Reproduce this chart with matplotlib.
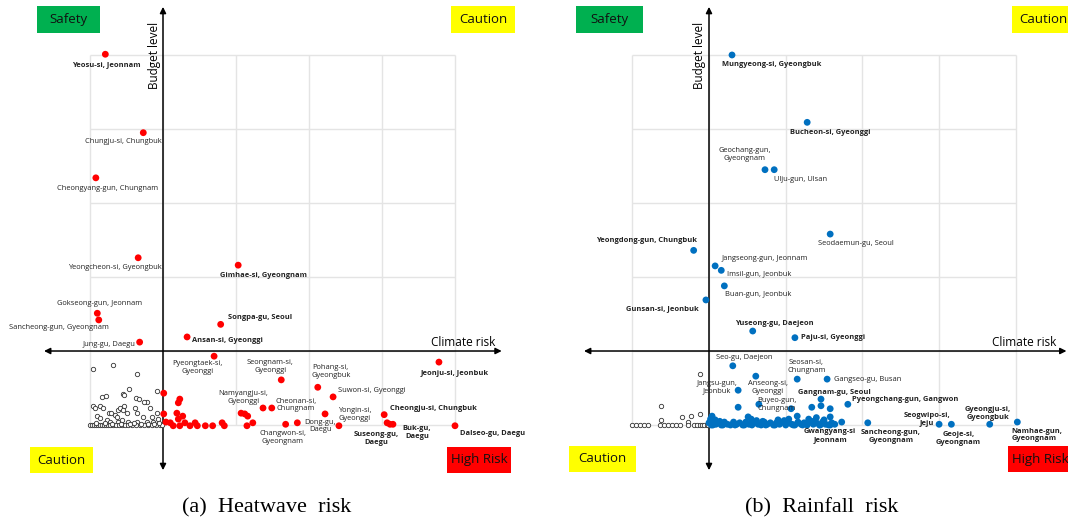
import matplotlib
matplotlib.use("Agg")
import matplotlib.pyplot as plt
from matplotlib.patches import Rectangle

plt.rcParams['font.family'] = ['Open Sans', 'DejaVu Sans']

# ---------------- Heatwave risk (left) ----------------
heat_names = ["Yeosu-si, Jeonnam", "Chungju-si, Chungbuk", "Cheongyang-gun, Chungnam",
              "Yeongcheon-si, Gyeongbuk", "Gimhae-si, Gyeongnam", "Gokseong-gun, Jeonnam",
              "Sancheong-gun, Gyeongnam", "Songpa-gu, Seoul", "Ansan-si, Gyeonggi",
              "Jung-gu, Daegu", "Pyeongtaek-si,\nGyeonggi", "Seongnam-si,\nGyeonggi",
              "Pohang-si,\nGyeongbuk", "Suwon-si, Gyeonggi", "Namyangju-si,\nGyeonggi",
              "Cheonan-si,\nChungnam", "Changwon-si,\nGyeongnam", "Dong-gu,\nDaegu",
              "Yongin-si,\nGyeonggi", "Cheongju-si, Chungbuk", "Suseong-gu,\nDaegu",
              "Buk-gu,\nDaegu", "Dalseo-gu, Daegu", "Jeonju-si, Jeonbuk"]
heat_risk = [-0.79, -0.27, -0.92, -0.34, 1.03, -0.90, -0.88, 0.79, 0.33, -0.32, 0.70, 1.62,
             2.12, 2.33, 1.07, 1.49, 1.68, 2.22, 2.41, 3.03, 3.07, 3.15, 4.00, 3.78]
heat_budget = [4.01, 2.95, 2.34, 1.26, 1.16, 0.51, 0.42, 0.36, 0.19, 0.12, -0.07, -0.39,
               -0.49, -0.62, -0.84, -0.77, -0.99, -0.85, -1.01, -0.86, -0.97, -0.99, -1.01, -0.15]
heat_bold = [True, False, False, False, True, False, False, True, True, False, False, False,
             False, False, False, False, False, False, False, True, True, True, True, True]

heat_other_risk = [0.01, 0.23, 0.21, 0.19, 0.27, 0.01, 0.21, 0.04, 0.10, 0.14, 0.23, 0.30,
                   0.37, 0.44, 0.47, 0.58, 0.68, 0.81, 0.84, 1.12, 1.16, 1.23, 1.15, 1.37,
                   1.84, 3.11]
heat_other_budget = [-0.57, -0.65, -0.70, -0.84, -0.88, -0.85, -0.92, -0.96, -0.97, -1.01,
                     -1.01, -0.97, -1.01, -0.97, -1.01, -1.01, -1.01, -0.97, -1.01, -0.85,
                     -0.88, -0.97, -1.01, -0.77, -0.97, -0.99]

heat_neg_risk = [-0.96, -0.68, -0.36, -0.84, -0.78, -0.55, -0.53, -0.47, -0.37, -0.33, -0.08,
                 -0.22, -0.26, -0.96, -0.93, -0.86, -0.82, -0.74, -0.71, -0.62, -0.59, -0.53,
                 -0.55, -0.66, -0.63, -0.49, -0.38, -0.36, -0.27, -0.18, -0.15, -0.08, -0.07,
                 -0.90, -0.86, -0.77, -0.73, -0.62, -0.56, -0.48, -0.36, -0.22, -0.14,
                 -1.00, -0.97, -0.95, -0.92, -0.89, -0.86, -0.84, -0.81, -0.78, -0.75, -0.73,
                 -0.68, -0.64, -0.60, -0.56, -0.52, -0.48, -0.42, -0.37, -0.32, -0.26, -0.21,
                 -0.15, -0.10, -0.04, -0.01,
                 -0.70, -0.45, -0.30, -0.12, -0.92, -0.80, -0.58, -0.40, -0.20, -0.05]
heat_neg_budget = [-0.24, -0.19, -0.31, -0.62, -0.61, -0.58, -0.59, -0.51, -0.64, -0.65, -0.54,
                   -0.69, -0.69, -0.74, -0.77, -0.74, -0.77, -0.84, -0.84, -0.80, -0.77, -0.74,
                   -0.80, -0.86, -0.89, -0.84, -0.77, -0.84, -0.89, -0.77, -0.89, -0.84, -0.92,
                   -0.88, -0.91, -0.93, -0.96, -0.96, -0.93, -0.96, -0.96, -0.96, -0.96,
                   -1.00, -1.00, -1.00, -1.00, -1.00, -1.00, -1.00, -1.00, -1.00, -1.00, -1.00,
                   -1.00, -1.00, -1.00, -1.00, -1.00, -1.00, -1.00, -1.00, -1.00, -1.00, -1.00,
                   -1.00, -1.00, -1.00, -1.00,
                   -0.98, -0.98, -0.98, -0.98, -0.97, -0.97, -0.98, -0.97, -0.98, -0.97]

# label placement (offset pixels, alignment)
heat_offsets = [(1, -10, 'center'), (-20, -9, 'center'), (12, -11, 'center'), (-23, -10, 'center'),
                (25, -10, 'center'), (2, 10, 'center'), (-40, -8, 'center'), (7, 7, 'left'),
                (5, -4, 'left'), (-4, -2, 'right'), (-17, -11, 'center'), (-11, 13, 'center'),
                (13, 16, 'center'), (5, 6, 'left'), (2, 16, 'center'), (24, 3, 'center'),
                (-3, -13, 'center'), (-5, -12, 'center'), (16, 11, 'center'), (6, 6, 'left'),
                (-11, -16, 'center'), (24, -8, 'center'), (38, -8, 'center'), (16, -11, 'center')]

# ---------------- Rainfall risk (right) ----------------
rain_names = ["Mungyeong-si, Gyeongbuk", "Bucheon-si, Gyeonggi", "Geochang-gun,\nGyeongnam",
              "Ulju-gun, Ulsan", "Seodaemun-gu, Seoul", "Yeongdong-gun, Chungbuk",
              "Jangseong-gun, Jeonnam", "Imsil-gun, Jeonbuk", "Buan-gun, Jeonbuk",
              "Gunsan-si, Jeonbuk", "Yuseong-gu, Daejeon", "Paju-si, Gyeonggi",
              "Seo-gu, Daejeon", "Jangsu-gun,\nJeonbuk", "Anseong-si,\nGyeonggi",
              "Seosan-si,\nChungnam", "Gangseo-gu, Busan", "Buyeo-gun,\nChungnam",
              "Gangnam-gu, Seoul", "Pyeongchang-gun, Gangwon", "Gwangyang-si\nJeonnam",
              "Sancheong-gun,\nGyeongnam", "Seogwipo-si,\nJeju", "Geoje-si,\nGyeongnam",
              "Gyeongju-si,\nGyeongbuk", "Namhae-gun,\nGyeongnam"]
rain_risk = [0.30, 1.28, 0.73, 0.85, 1.58, -0.20, 0.08, 0.16, 0.20, -0.04, 0.57, 1.12,
             0.31, 0.38, 0.61, 1.15, 1.54, 0.65, 1.46, 1.81, 1.58, 2.07, 3.00, 3.16, 3.66, 4.02]
rain_budget = [4.00, 3.09, 2.45, 2.45, 1.58, 1.36, 1.15, 1.09, 0.88, 0.69, 0.27, 0.18,
               -0.20, -0.53, -0.34, -0.38, -0.38, -0.72, -0.65, -0.72, -0.89, -0.97, -0.99,
               -0.99, -0.99, -0.96]
rain_bold = [True, True, False, False, False, True, False, False, False, True, True, True,
             False, False, False, False, False, False, True, True, True, True, True, True,
             True, True]
rain_offsets = [(40, -10, 'center'), (23, -10, 'center'), (-20, 15, 'center'), (26, -10, 'center'),
                (26, -9, 'center'), (-47, 10, 'center'), (50, 7, 'center'), (38, -4, 'center'),
                (34, -9, 'center'), (-44, -9, 'center'), (22, 8, 'center'), (6, 0, 'left'),
                (11, 8, 'center'), (-21, 3, 'center'), (12, -11, 'center'), (9, 13, 'center'),
                (7, 0, 'left'), (18, 0, 'center'), (13, 7, 'center'), (4, 5, 'left'),
                (0, -19, 'center'), (23, -14, 'center'), (-12, 5, 'center'), (7, -14, 'center'),
                (-2, 11, 'center'), (-6, -13, 'left')]

rain_other_risk = [0.38, 1.34, 1.46, 1.58, 1.15, 1.04, 1.73, 1.07, 0.04, 0.51,
                   0.00, 0.03, 0.06, 0.09, 0.12, 0.16, 0.20, 0.24, 0.28, 0.32, 0.36, 0.40,
                   0.44, 0.48, 0.52, 0.56, 0.60, 0.64, 0.68, 0.72, 0.76, 0.80, 0.84, 0.88,
                   0.92, 0.96, 1.00, 1.04, 1.08, 1.12, 1.16, 1.20, 1.24, 1.28, 1.32, 1.36,
                   1.40, 1.44, 1.48, 1.52, 1.56, 1.60, 1.64,
                   0.08, 0.14, 0.55, 0.62, 0.90, 1.30, 1.40, 1.50, 0.02, 0.70, 0.98, 1.36,
                   0.05, 0.18, 0.34, 0.46, 0.74, 0.86, 1.10, 1.22, 1.45, 1.58]
rain_other_budget = [-0.76, -0.76, -0.74, -0.78, -0.88, -0.92, -0.96, -0.78, -0.88, -0.89,
                     -0.97, -1.00, -0.95, -0.99, -0.97, -1.00, -0.96, -0.99, -1.00, -0.96,
                     -0.99, -0.97, -1.00, -0.96, -0.99, -1.00, -0.97, -0.99, -1.00, -0.96,
                     -0.99, -0.97, -1.00, -0.97, -0.99, -0.96, -1.00, -0.97, -0.99, -1.00,
                     -0.96, -0.99, -0.97, -1.00, -0.96, -0.99, -0.97, -1.00, -0.96, -0.99,
                     -1.00, -0.97, -0.99,
                     -0.93, -0.95, -0.92, -0.94, -0.93, -0.92, -0.90, -0.93, -0.92, -0.95,
                     -0.94, -0.95,
                     -1.00, -1.00, -1.00, -1.00, -1.00, -1.00, -1.00, -1.00, -1.00, -1.00]

rain_neg_risk = [-0.12, -0.63, -0.12, -0.23, -0.35, -0.63, -0.27,
                 -1.00, -0.95, -0.90, -0.85, -0.80, -0.64, -0.59, -0.53, -0.48, -0.43, -0.38,
                 -0.27, -0.20, -0.15, -0.12, -0.09, -0.06, -0.03, -0.01]
rain_neg_budget = [-0.31, -0.74, -0.85, -0.88, -0.89, -0.93, -0.96,
                   -1.00, -1.00, -1.00, -1.00, -1.00, -1.00, -1.00, -1.00, -1.00, -1.00, -1.00,
                   -1.00, -1.00, -1.00, -1.00, -1.00, -1.00, -1.00, -1.00]

grid_steps = [-1, 0, 1, 2, 3, 4]

W, H = 1068, 520
fig = plt.figure(figsize=(W / 100, H / 100), dpi=100)

def px_ax(x0, x1, y0, y1):
    return fig.add_axes([x0 / W, 1 - y1 / H, (x1 - x0) / W, (y1 - y0) / H])

def quadrant_box(x0, y0, x1, y1, color, text):
    fig.patches.append(Rectangle((x0 / W, 1 - y1 / H), (x1 - x0) / W, (y1 - y0) / H,
                                 transform=fig.transFigure, facecolor=color, edgecolor='none',
                                 zorder=5))
    fig.text((x0 + x1) / 2 / W, 1 - (y0 + y1) / 2 / H, text, ha='center', va='center',
             fontsize=9.5, color='#111111', zorder=6)

def draw_panel(ax, xlim, names, xs, ys, bold, offsets, oxs, oys, nxs, nys, color):
    ax.set_xlim(*xlim)
    ax.set_ylim(-1.743, 4.743)
    ax.axis('off')
    ax.vlines(grid_steps, -1, 4, color='#e4e4e4', lw=1.0, zorder=0)
    ax.hlines(grid_steps, -1, 4, color='#e4e4e4', lw=1.0, zorder=0)
    ax.annotate('', xy=(xlim[1] - 0.02 if xlim[1] < 4.7 else 4.64, 0), xytext=(-1.63, 0),
                arrowprops=dict(arrowstyle='<|-|>', color='black', lw=1.1,
                                mutation_scale=9, shrinkA=0, shrinkB=0), zorder=2)
    ax.annotate('', xy=(0, 4.65), xytext=(0, -1.61),
                arrowprops=dict(arrowstyle='<|-|>', color='black', lw=1.1,
                                mutation_scale=9, shrinkA=0, shrinkB=0), zorder=2)
    ax.text(-0.12, 4.0, 'Budget level', rotation=90, ha='center', va='center', fontsize=8.5)
    ax.text(4.11, 0.12, 'Climate risk', ha='center', va='center', fontsize=8.5)
    ax.scatter(nxs, nys, s=10, facecolors='white', edgecolors='#333333', linewidths=0.6,
               zorder=3)
    ax.scatter(oxs, oys, s=24, color=color, edgecolors='none', zorder=4)
    ax.scatter(xs, ys, s=24, color=color, edgecolors='none', zorder=4)
    for name, x, y, b, (dx, dy, ha) in zip(names, xs, ys, bold, offsets):
        ax.annotate(name, (x, y), xytext=(dx, dy), textcoords='offset pixels',
                    ha=ha, va='center', multialignment=ha, fontsize=5.4,
                    fontweight='bold' if b else 'normal', color='#222222',
                    linespacing=1.15, zorder=5, annotation_clip=False)

axL = px_ax(0, 534, 0, 480)
draw_panel(axL, (-163 / 73, (534 - 163) / 73), heat_names, heat_risk, heat_budget, heat_bold,
           heat_offsets, heat_other_risk, heat_other_budget, heat_neg_risk, heat_neg_budget,
           '#FF0000')
axR = px_ax(534, 1068, 0, 480)
draw_panel(axR, ((534 - 709) / 76.7, (1068 - 709) / 76.7), rain_names, rain_risk, rain_budget,
           rain_bold, rain_offsets, rain_other_risk, rain_other_budget, rain_neg_risk,
           rain_neg_budget, '#0070C0')

quadrant_box(37, 6, 100, 33, '#00B050', 'Safety')
quadrant_box(451, 6, 515, 33, '#FFFF00', 'Caution')
quadrant_box(30, 447, 93, 473, '#FFFF00', 'Caution')
quadrant_box(447, 447, 511, 473, '#FF0000', 'High Risk')
quadrant_box(576, 6, 643, 33, '#00B050', 'Safety')
quadrant_box(1012, 6, 1075, 33, '#FFFF00', 'Caution')
quadrant_box(569, 446, 636, 472, '#FFFF00', 'Caution')
quadrant_box(1008, 446, 1072, 472, '#FF0000', 'High Risk')

fig.text(267 / W, 1 - 508 / H, '(a)  Heatwave  risk', ha='center', va='center',
         fontsize=16, family='Liberation Serif')
fig.text(822 / W, 1 - 508 / H, '(b)  Rainfall  risk', ha='center', va='center',
         fontsize=16, family='Liberation Serif')

fig.savefig('out.png', dpi=100)
